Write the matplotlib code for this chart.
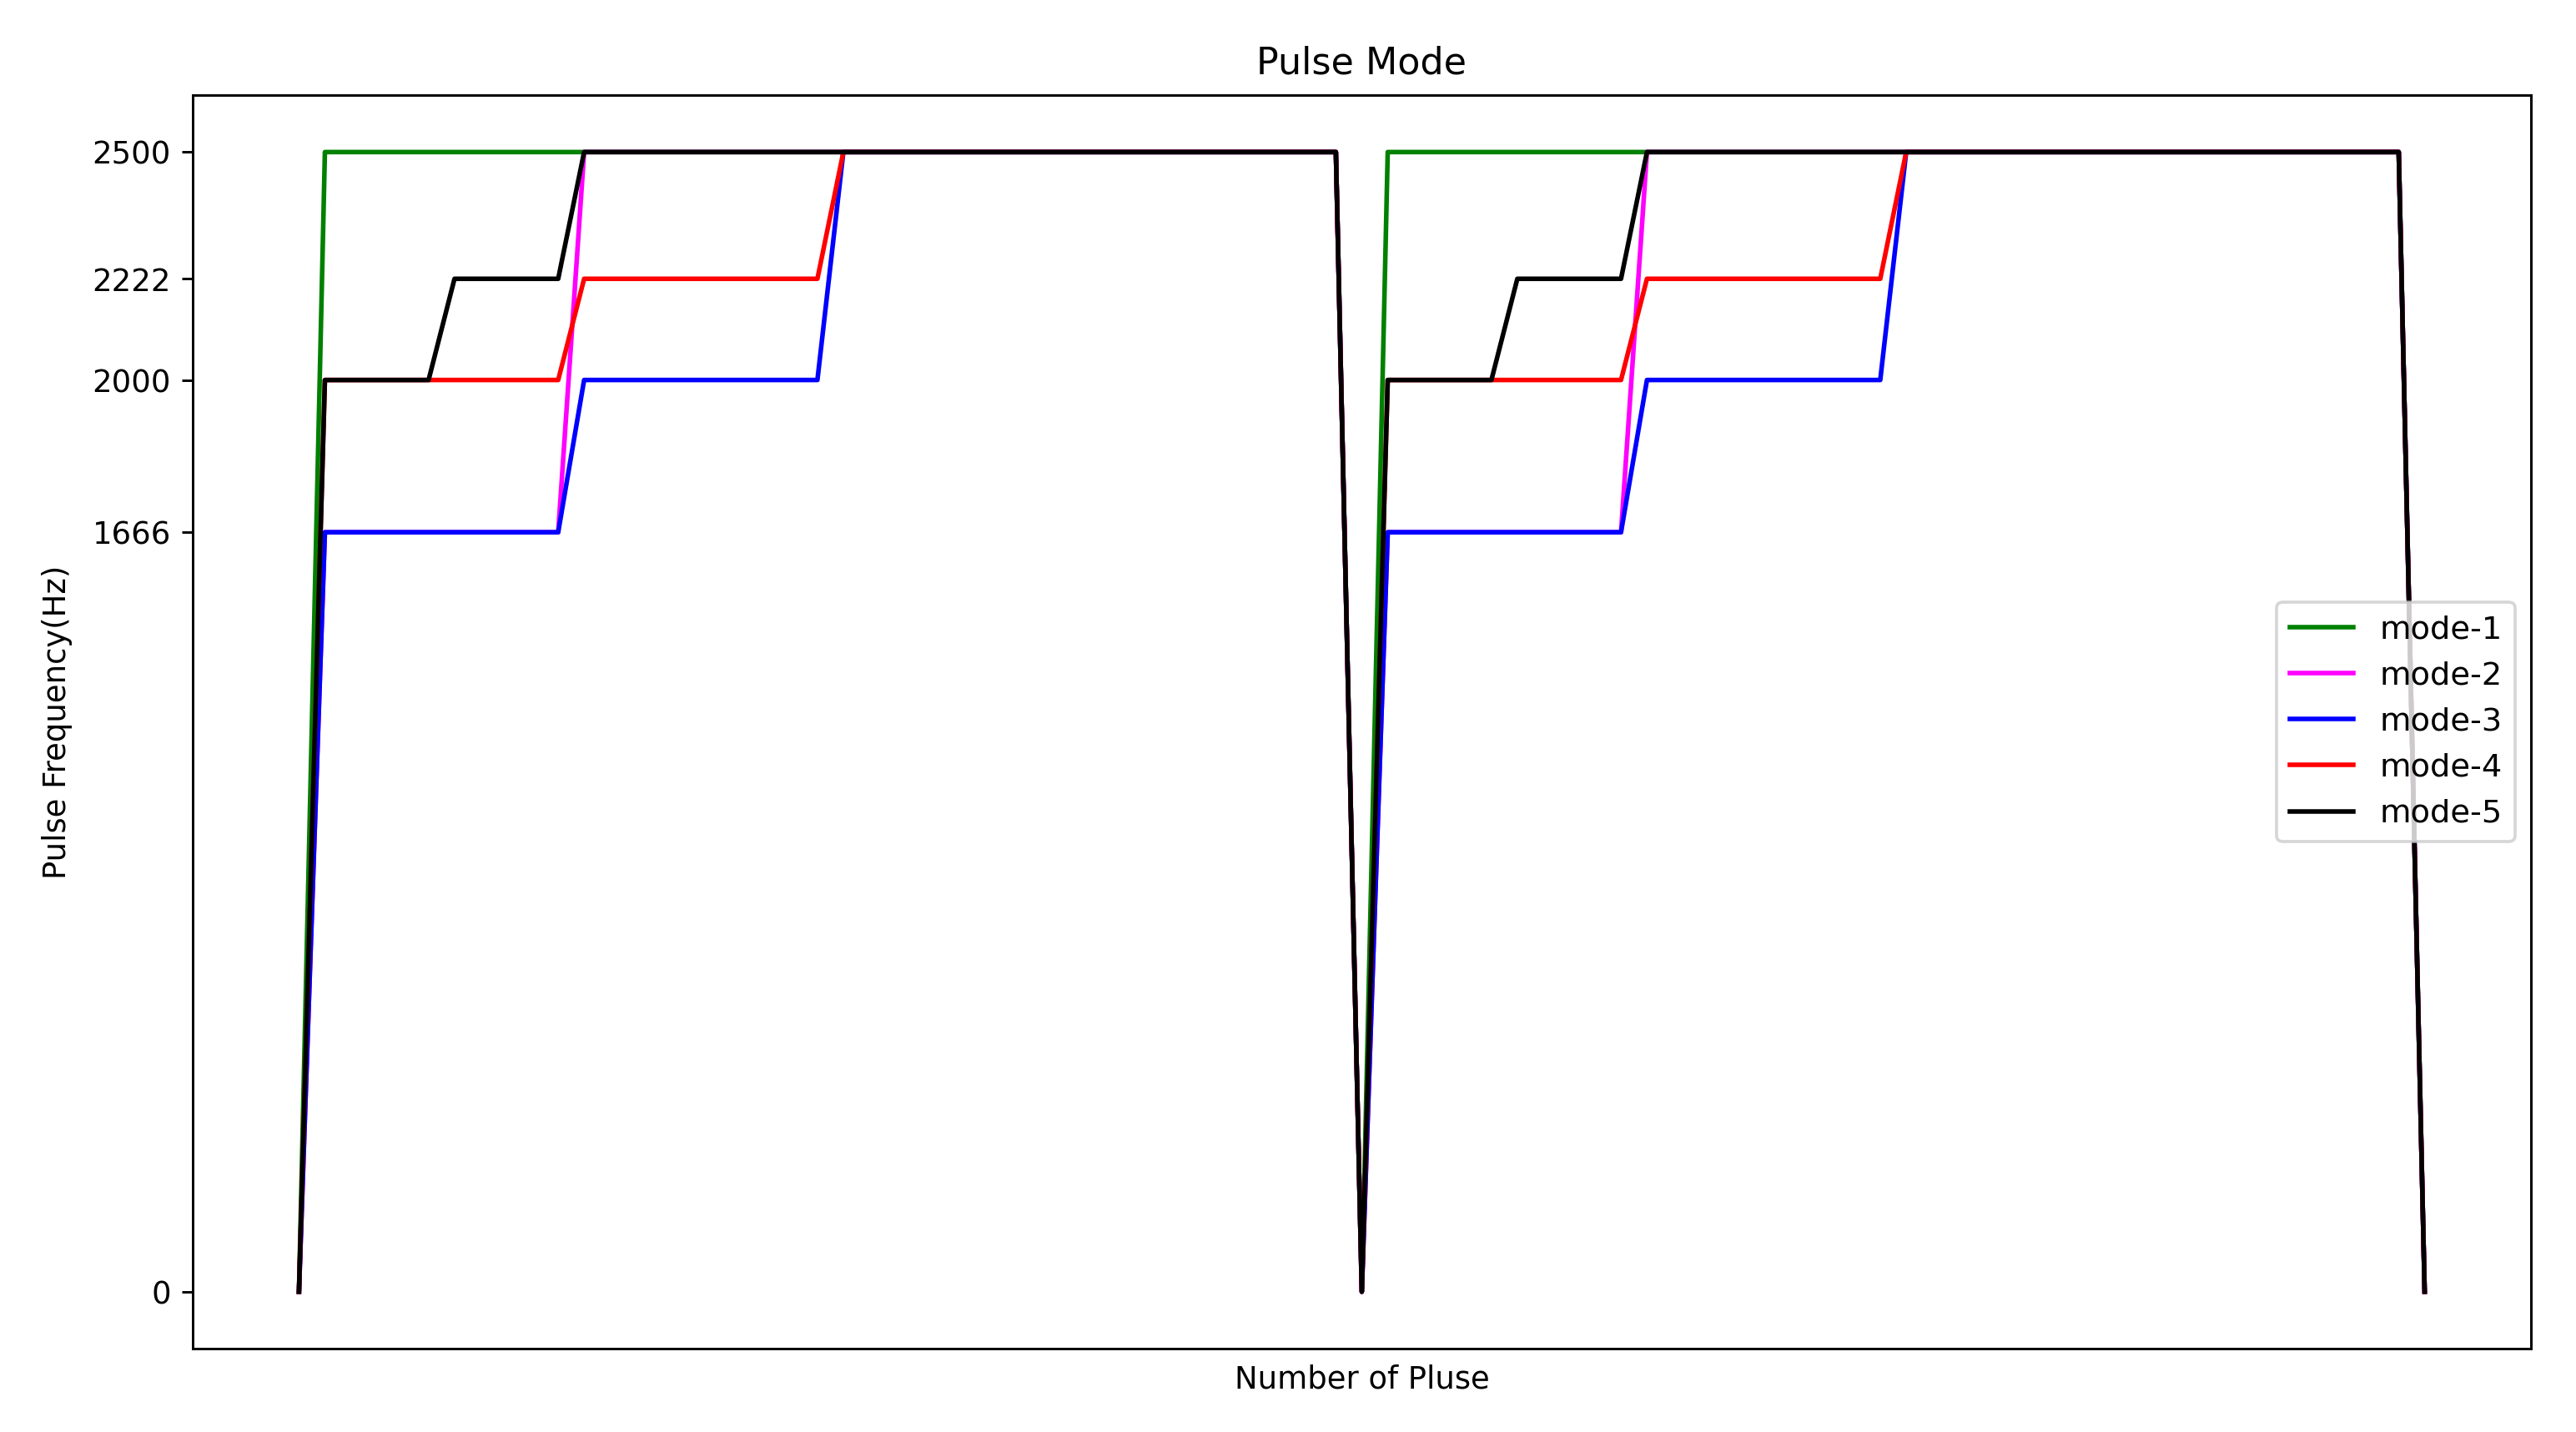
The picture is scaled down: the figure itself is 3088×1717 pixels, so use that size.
import matplotlib
matplotlib.use('Agg')
import matplotlib.pyplot as plt

# pulse index where each level changes (corner points of the curves)
mode1_x = [0, 1, 40, 41, 42, 81, 82]
mode1_y = [0, 2500, 2500, 0, 2500, 2500, 0]

mode2_x = [0, 1, 10, 11, 40, 41, 42, 51, 52, 81, 82]
mode2_y = [0, 1666, 1666, 2500, 2500, 0, 1666, 1666, 2500, 2500, 0]

mode3_x = [0, 1, 10, 11, 20, 21, 40, 41, 42, 51, 52, 61, 62, 81, 82]
mode3_y = [0, 1666, 1666, 2000, 2000, 2500, 2500, 0, 1666, 1666, 2000, 2000, 2500, 2500, 0]

mode4_x = [0, 1, 10, 11, 20, 21, 40, 41, 42, 51, 52, 61, 62, 81, 82]
mode4_y = [0, 2000, 2000, 2222, 2222, 2500, 2500, 0, 2000, 2000, 2222, 2222, 2500, 2500, 0]

mode5_x = [0, 1, 5, 6, 10, 11, 40, 41, 42, 46, 47, 51, 52, 81, 82]
mode5_y = [0, 2000, 2000, 2222, 2222, 2500, 2500, 0, 2000, 2000, 2222, 2222, 2500, 2500, 0]

freq_ticks = [0, 1666, 2000, 2222, 2500]

fig = plt.figure(figsize=(3088 / 266, 1717 / 266), dpi=266)
plt.subplots_adjust(left=0.0748, right=0.9825, top=0.9336, bottom=0.0582)

plt.plot(mode1_x, mode1_y, color='g', label='mode-1')
plt.plot(mode2_x, mode2_y, color='magenta', label='mode-2')
plt.plot(mode3_x, mode3_y, color='b', label='mode-3')
plt.plot(mode4_x, mode4_y, color='r', label='mode-4')
plt.plot(mode5_x, mode5_y, color='k', label='mode-5')

plt.yticks(freq_ticks)
plt.xticks([])
plt.title('Pulse Mode', pad=7)
plt.xlabel('Number of Pluse', labelpad=5)
plt.ylabel('Pulse Frequency(Hz)', labelpad=6.5)
plt.legend(loc='center right', fontsize=10.4)

plt.savefig('out.png', dpi=266)
